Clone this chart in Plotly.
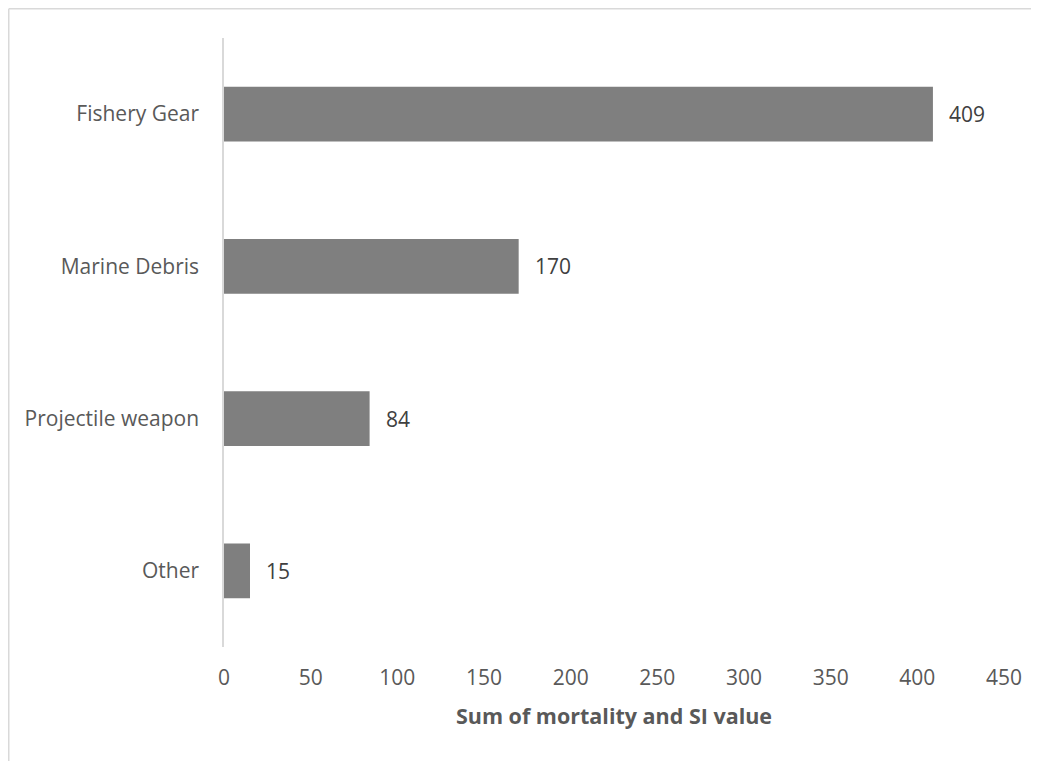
import plotly.graph_objects as go

categories = ["Other", "Projectile weapon", "Marine Debris", "Fishery Gear"]
values = [15, 84, 170, 409]
x_ticks = [0, 50, 100, 150, 200, 250, 300, 350, 400, 450]
x_title = "Sum of mortality and SI value"

FONT = "Open Sans"
FS = 21

fig = go.Figure()
fig.add_trace(go.Bar(
    x=values, y=categories, orientation="h",
    marker=dict(color="#7f7f7f", line=dict(width=0)),
    width=0.36, hoverinfo="skip",
))

annotations = [
    dict(x=v, y=c, xref="x", yref="y", text=str(v), showarrow=False,
         xanchor="left", yanchor="middle", xshift=14,
         font=dict(family=FONT, size=FS, color="#404040"))
    for c, v in zip(categories, values)
]

W, H = 1039, 761
ml, mr, mt, mb = 216, 43, 30, 122
pw = W - ml - mr
ph = H - mt - mb
bx = (0.75 - ml) / pw
by = 1 + (mt - 0.75) / ph
bx2 = 1 + (mr + 5) / pw
by2 = -(mb + 5) / ph

shapes = [
    dict(type="line", xref="paper", yref="paper", x0=bx, x1=bx2, y0=by, y1=by,
         line=dict(color="#d9d9d9", width=1.5)),
    dict(type="line", xref="paper", yref="paper", x0=bx, x1=bx, y0=by, y1=by2,
         line=dict(color="#d9d9d9", width=1.5)),
]

fig.update_layout(
    width=W, height=H,
    margin=dict(l=ml, r=mr, t=mt, b=mb, autoexpand=False),
    paper_bgcolor="white", plot_bgcolor="white",
    showlegend=False,
    annotations=annotations,
    shapes=shapes,
    font=dict(family=FONT, size=FS, color="#595959"),
    xaxis=dict(
        range=[0, 450], tickvals=x_ticks, ticktext=[str(t) for t in x_ticks],
        showgrid=False, zeroline=False, showline=False,
        ticks="", ticklabelstandoff=16,
        tickfont=dict(family=FONT, size=FS, color="#595959"),
        title=dict(text="<b>" + x_title + "</b>", standoff=18,
                   font=dict(family=FONT, size=21.5, color="#595959")),
        fixedrange=True,
    ),
    yaxis=dict(
        categoryorder="array", categoryarray=categories,
        range=[-0.5, 3.5],
        showgrid=False, zeroline=False, showline=True,
        linecolor="#d9d9d9", linewidth=1.5,
        ticks="", ticklabelstandoff=19,
        tickfont=dict(family=FONT, size=FS, color="#595959"),
        fixedrange=True,
    ),
)

fig.write_html("out.html")
